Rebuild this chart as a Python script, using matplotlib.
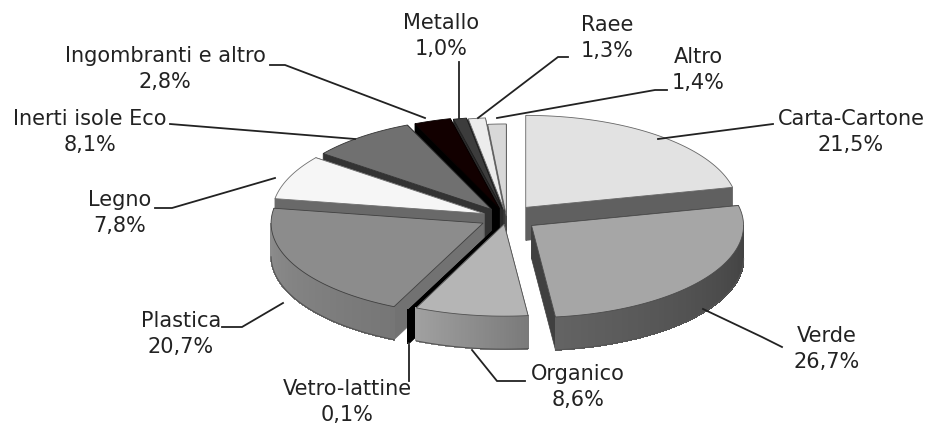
import numpy as np
import matplotlib
matplotlib.use('Agg')
import matplotlib.pyplot as plt
from matplotlib.patches import Polygon
from matplotlib.collections import PolyCollection
from matplotlib.colors import to_rgb

# data, clockwise from 12 o'clock
names = ['Carta-Cartone', 'Verde', 'Organico', 'Vetro-lattine', 'Plastica', 'Legno',
         'Inerti isole Eco', 'Ingombranti e altro', 'Metallo', 'Raee', 'Altro']
values = [21.5, 26.7, 8.6, 0.1, 20.7, 7.8, 8.1, 2.8, 1.0, 1.3, 1.4]

# style of each slice
explode = [0.145, 0.145, 0.07, 0.105, 0.125, 0.115, 0.115, 0.11, 0.10, 0.09, 0.02]
top_col = ['#e2e2e2', '#a6a6a6', '#b5b5b5', '#000000', '#8c8c8c', '#f6f6f6',
           '#707070', '#120000', '#3c3c3c', '#ececec', '#d8d8d8']
wall_col = ['#606060', '#404040', '#808080', '#000000', '#727272', '#696969',
            '#333333', '#000000', '#2a2a2a', '#333333', '#444444']
side_from = ['#808080', '#404040', '#7a7a7a', '#000000', '#767676', '#aaaaaa',
             '#555555', '#000000', '#333333', '#aaaaaa', '#aaaaaa']
side_to = ['#555555', '#636363', '#a0a0a0', '#000000', '#8c8c8c', '#777777',
           '#333333', '#000000', '#222222', '#888888', '#888888']

# label centre (x, y of first line) and leader line, in pixels
label_pos = [(851, 119), (827, 336), (578, 374), (347, 389), (181, 321), (120, 200),
             (90, 119), (165, 56), (441, 23), (607, 25), (698, 57)]
leaders = [[(773, 124), (658, 139)],
           [(782, 347), (762, 337), (703, 309)],
           [(525, 381), (497, 381), (472, 350)],
           [(409, 381), (409, 345)],
           [(222, 327), (242, 327), (283, 303)],
           [(155, 208), (172, 208), (275, 178)],
           [(170, 124), (355, 139)],
           [(270, 65), (285, 65), (425, 118)],
           [(459, 62), (459, 118)],
           [(568, 57), (558, 57), (478, 118)],
           [(667, 90), (655, 90), (497, 118)]]

cx, cy = 506.5, 217.8
rx, ry = 212, 92
depth = 33

plt.rcParams['font.family'] = 'DejaVu Sans'
fig = plt.figure(figsize=(9.29, 4.25), dpi=100)
ax = fig.add_axes([0, 0, 1, 1])
ax.set_xlim(0, 929)
ax.set_ylim(425, 0)
ax.axis('off')


def blend(c1, c2, f):
    a, b = np.array(to_rgb(c1)), np.array(to_rgb(c2))
    return tuple(a + (b - a) * f)


vals = np.array(values)
edges = np.concatenate([[0], np.cumsum(vals) / vals.sum() * 2 * np.pi])
mids = (edges[:-1] + edges[1:]) / 2

# back slices first so the front ones cover them
for i in np.argsort(-np.cos(mids)):
    t0, t1 = edges[i], edges[i + 1]
    ax0 = cx + explode[i] * rx * np.sin(mids[i])
    ay0 = cy - explode[i] * ry * np.cos(mids[i])
    t = np.linspace(t0, t1, 100)
    xs = ax0 + rx * np.sin(t)
    ys = ay0 - ry * np.cos(t)

    # the two cut faces
    for k in (0, -1):
        wall = [(ax0, ay0), (xs[k], ys[k]), (xs[k], ys[k] + depth), (ax0, ay0 + depth)]
        ax.add_patch(Polygon(wall, closed=True, fc=wall_col[i], ec=wall_col[i], lw=0.5))

    # outer rim, shaded strip by strip
    quads, cols = [], []
    front = np.where(np.cos(t) <= 0)[0]
    for j in range(len(front) - 1):
        a, b = front[j], front[j + 1]
        quads.append([(xs[a], ys[a]), (xs[b], ys[b]), (xs[b], ys[b] + depth), (xs[a], ys[a] + depth)])
        cols.append(blend(side_from[i], side_to[i], j / max(len(front) - 2, 1)))
    if quads:
        ax.add_collection(PolyCollection(quads, facecolors=cols, edgecolors=cols,
                                         linewidths=0.6, antialiaseds=False))
        ax.plot(xs[front], ys[front] + depth, color='#555555', lw=0.8)

    # top face
    top = [(ax0, ay0)] + list(zip(xs, ys))
    ax.add_patch(Polygon(top, closed=True, fc=top_col[i], ec=blend(top_col[i], '#000000', 0.55), lw=0.6))

# labels and leader lines
for name, val, pos, line in zip(names, values, label_pos, leaders):
    ax.plot([p[0] for p in line], [p[1] for p in line], color='#222222', lw=1.3,
            solid_joinstyle='miter', zorder=5)
    ax.text(pos[0], pos[1], name, ha='center', va='center', fontsize=15, color='#222222')
    ax.text(pos[0], pos[1] + 26, f'{val:.1f}%'.replace('.', ','), ha='center', va='center',
            fontsize=15, color='#222222')

fig.savefig('out.png', dpi=100)
